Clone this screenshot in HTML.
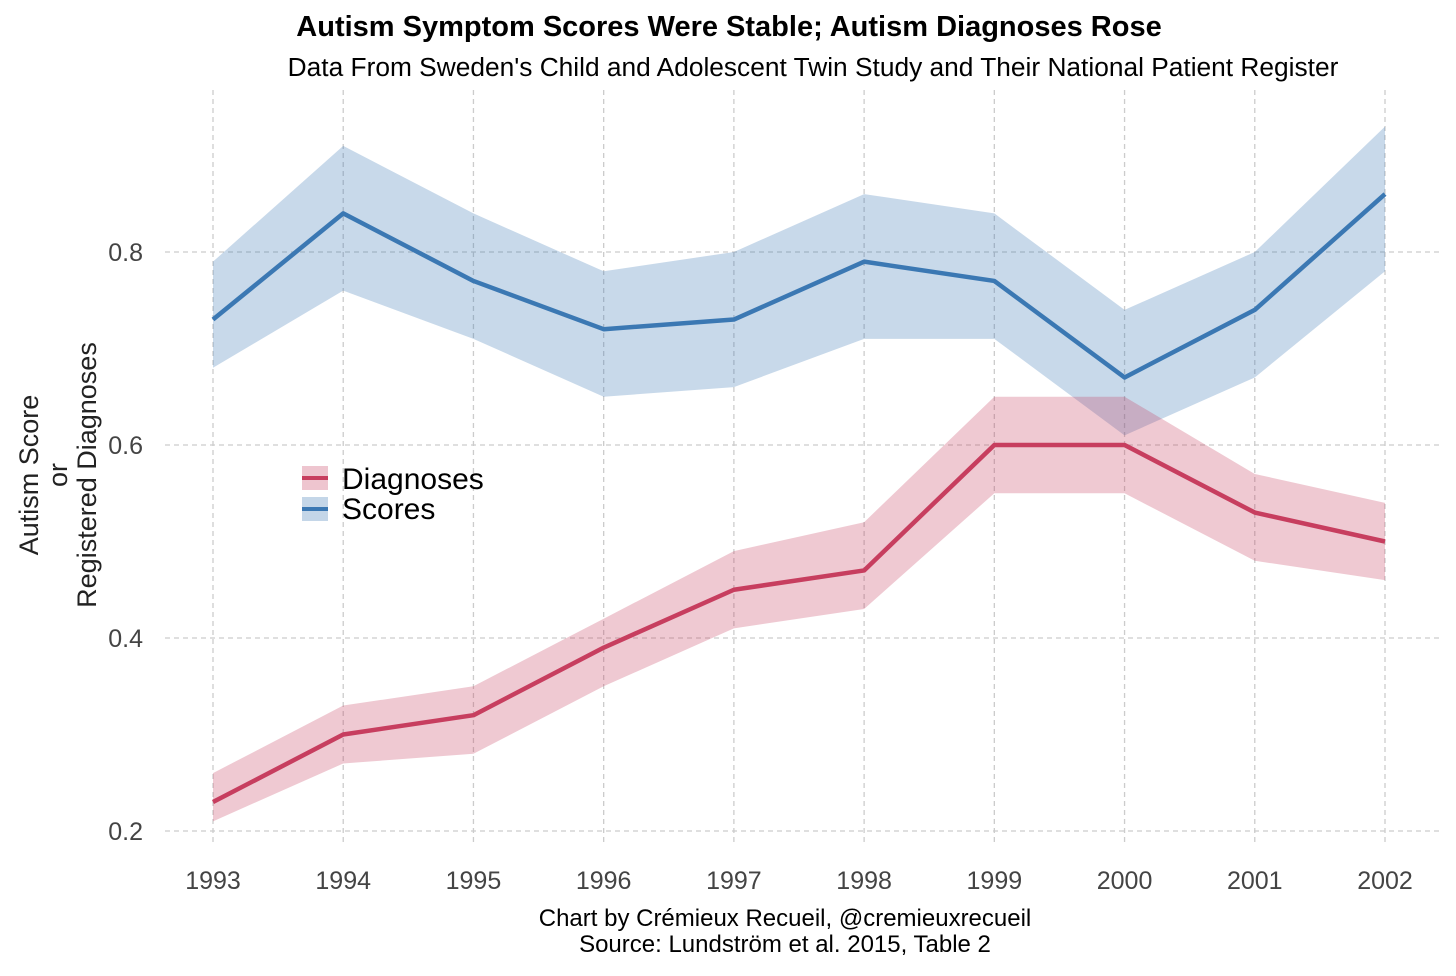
<!DOCTYPE html>
<html><head><meta charset="utf-8"><style>
body{margin:0;background:#fff;}
svg text{font-family:"Liberation Sans",Arial,sans-serif;}
</style></head><body>
<svg id="chart" width="1456" height="971" xmlns="http://www.w3.org/2000/svg">
<text x="729" y="36" text-anchor="middle" font-size="29" font-weight="bold" fill="#000">Autism Symptom Scores Were Stable; Autism Diagnoses Rose</text>
<text x="813" y="76" text-anchor="middle" font-size="26.3" fill="#000">Data From Sweden's Child and Adolescent Twin Study and Their National Patient Register</text>
<g id="grid"></g>
<g id="bands"></g>
<g id="lines"></g>
<g id="ticks"></g>
<text transform="translate(46,475) rotate(-90)" text-anchor="middle" font-size="27" fill="#222"><tspan x="0" dy="-8">Autism Score</tspan><tspan x="0" dy="29">or</tspan><tspan x="0" dy="29">Registered Diagnoses</tspan></text>
<g>
<g>
<rect x="302" y="466" width="26" height="24" fill="#c73e5f" fill-opacity="0.3"/>
<line x1="302" y1="478" x2="328" y2="478" stroke="#c73e5f" stroke-width="4"/>
<text x="342" y="489" font-size="30" fill="#000">Diagnoses</text></g>
<g>
<rect x="302" y="497" width="26" height="24" fill="#3b78b3" fill-opacity="0.3"/>
<line x1="302" y1="509" x2="328" y2="509" stroke="#3b78b3" stroke-width="4"/>
<text x="342" y="519" font-size="30" fill="#000">Scores</text></g>
</g>
<text x="785" y="926" text-anchor="middle" font-size="24" fill="#000">Chart by Crémieux Recueil, @cremieuxrecueil</text>
<text x="785" y="952" text-anchor="middle" font-size="24" fill="#000">Source: Lundström et al. 2015, Table 2</text>
</svg>
<script>
const years=[1993,1994,1995,1996,1997,1998,1999,2000,2001,2002];
const scores=[0.73,0.84,0.77,0.72,0.73,0.79,0.77,0.67,0.74,0.86];
const scoresHi=[0.79,0.91,0.84,0.78,0.80,0.86,0.84,0.74,0.80,0.93];
const scoresLo=[0.68,0.76,0.71,0.65,0.66,0.71,0.71,0.61,0.67,0.78];
const diag=[0.23,0.30,0.32,0.39,0.45,0.47,0.60,0.60,0.53,0.50];
const diagHi=[0.26,0.33,0.35,0.42,0.49,0.52,0.65,0.65,0.57,0.54];
const diagLo=[0.21,0.27,0.28,0.35,0.41,0.43,0.55,0.55,0.48,0.46];
const yTicks=[0.2,0.4,0.6,0.8];
const NS="http://www.w3.org/2000/svg";
const xs=y=>213+(y-1993)*(1385-213)/9;
const ys=v=>831-(v-0.2)*(831-252)/0.6;
function mk(tag,attrs,parent){const e=document.createElementNS(NS,tag);for(const k in attrs)e.setAttribute(k,attrs[k]);document.getElementById(parent).appendChild(e);return e;}
yTicks.forEach(t=>{
 const l=mk('line',{x1:165,x2:1442,y1:ys(t),y2:ys(t),stroke:'#ccc','stroke-dasharray':'5,4','stroke-width':1.3},'grid');
 
 
 const tx=mk('text',{x:143,y:ys(t)+9,'text-anchor':'end','font-size':25,fill:'#444'},'ticks');
 tx.textContent=t.toFixed(1);
 
 
});
years.forEach(y=>{
 const l=mk('line',{x1:xs(y),x2:xs(y),y1:90,y2:845,stroke:'#ccc','stroke-dasharray':'5,4','stroke-width':1.3},'grid');
 
 
 const tx=mk('text',{x:xs(y),y:889,'text-anchor':'middle','font-size':25,fill:'#444'},'ticks');
 tx.textContent=y;
 
 
});
function band(hi,lo,color,name){
 let d='M'+years.map((y,i)=>xs(y)+','+ys(hi[i])).join('L');
 d+='L'+years.slice().reverse().map((y,j)=>{const i=years.length-1-j;return xs(y)+','+ys(lo[i]);}).join('L')+'Z';
 const p=mk('path',{d:d,fill:color,'fill-opacity':0.28},'bands');
 
 
}
function line(v,color,name){
 const p=mk('polyline',{points:years.map((y,i)=>xs(y)+','+ys(v[i])).join(' '),fill:'none',stroke:color,'stroke-width':4.5,'stroke-linejoin':'round'},'lines');
 
 
}
band(scoresHi,scoresLo,'#3b78b3','scores-confidence-band');
band(diagHi,diagLo,'#c73e5f','diagnoses-confidence-band');
line(scores,'#3b78b3','scores-line');
line(diag,'#c73e5f','diagnoses-line');
</script>
</body></html>
